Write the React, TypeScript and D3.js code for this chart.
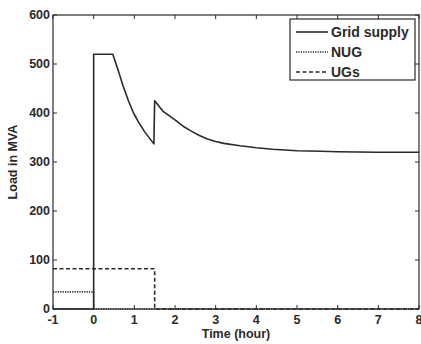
import { useEffect, useRef } from "react";
import * as d3 from "d3";

// time (hour) / load (MVA)
const gridTime = [-1, 0, 0, 0.47, 0.6, 0.72, 0.85, 0.98, 1.1, 1.25, 1.48, 1.5, 1.7, 2, 2.2, 2.4, 2.6, 2.8, 3.0, 3.2, 3.6, 4, 4.4, 5, 5.6, 6, 7, 8];
const gridLoad = [0, 0, 520, 520, 488, 456, 426, 400, 382, 362, 337, 425, 404, 386, 373, 363, 354, 347, 342, 338, 333, 329, 326, 323, 322, 321, 320, 320];
const nugTime = [-1, 0, 0, 8];
const nugLoad = [35, 35, 0, 0];
const ugTime = [-1, 1.5, 1.5, 8];
const ugLoad = [82, 82, 0, 0];

const xTicks = [-1, 0, 1, 2, 3, 4, 5, 6, 7, 8];
const yTicks = [0, 100, 200, 300, 400, 500, 600];
const seriesNames = ["Grid supply", "NUG", "UGs"];

export default function App() {
  const ref = useRef<SVGSVGElement>(null);

  useEffect(() => {
    const width = 421;
    const height = 344;
    const marginLeft = 53;
    const marginRight = 2;
    const marginTop = 15;
    const marginBottom = 35;
    const ink = "#2a2a2a";
    const font = "Liberation Sans, Arial, sans-serif";

    const svg = d3.select(ref.current);
    svg.selectAll("*").remove();

    const x = d3.scaleLinear([-1, 8], [marginLeft, width - marginRight]);
    const y = d3.scaleLinear([0, 600], [height - marginBottom, marginTop]);

    svg.append("rect").attr("width", width).attr("height", height).attr("fill", "#fff");

    const series = [
      { t: gridTime, v: gridLoad, dash: null },
      { t: nugTime, v: nugLoad, dash: "1.2,1.2" },
      { t: ugTime, v: ugLoad, dash: "4,2.5" },
    ];

    const line = d3.line<[number, number]>().x(d => x(d[0])).y(d => y(d[1]));

    // draw the dashed ones first so the solid one sits on top
    [2, 1, 0].forEach(i => {
      const s = series[i];
      const pts = s.t.map((t, j) => [t, s.v[j]] as [number, number]);
      svg.append("path")
        .attr("d", line(pts))
        .attr("fill", "none")
        .attr("stroke", ink)
        .attr("stroke-width", 1.6)
        .attr("stroke-linejoin", "round")
        .attr("stroke-dasharray", s.dash);
    });

    // box + inward ticks on all sides
    const tick = 4;
    const gx = svg.append("g");
    xTicks.forEach(t => {
      gx.append("line").attr("x1", x(t)).attr("x2", x(t)).attr("y1", y(0)).attr("y2", y(0) - tick).attr("stroke", ink);
      gx.append("line").attr("x1", x(t)).attr("x2", x(t)).attr("y1", y(600)).attr("y2", y(600) + tick).attr("stroke", ink);
      gx.append("text")
        .attr("x", x(t)).attr("y", y(0) + 15)
        .attr("text-anchor", "middle")
        .attr("font-family", font).attr("font-weight", "bold").attr("font-size", 12.5)
        .attr("fill", ink)
        .text(t);
    });
    yTicks.forEach(v => {
      gx.append("line").attr("x1", x(-1)).attr("x2", x(-1) + tick).attr("y1", y(v)).attr("y2", y(v)).attr("stroke", ink);
      gx.append("line").attr("x1", x(8)).attr("x2", x(8) - tick).attr("y1", y(v)).attr("y2", y(v)).attr("stroke", ink);
      gx.append("text")
        .attr("x", x(-1) - 3).attr("y", y(v) + 4)
        .attr("text-anchor", "end")
        .attr("font-family", font).attr("font-weight", "bold").attr("font-size", 12.5)
        .attr("fill", ink)
        .text(v);
    });
    svg.append("rect")
      .attr("x", x(-1)).attr("y", y(600))
      .attr("width", x(8) - x(-1)).attr("height", y(0) - y(600))
      .attr("fill", "none").attr("stroke", ink).attr("stroke-width", 1.2);

    svg.append("text")
      .attr("x", (x(-1) + x(8)) / 2).attr("y", height - 6)
      .attr("text-anchor", "middle")
      .attr("font-family", font).attr("font-weight", "bold").attr("font-size", 12.5)
      .attr("fill", ink)
      .text("Time (hour)");

    svg.append("text")
      .attr("transform", `translate(17,${(y(0) + y(600)) / 2}) rotate(-90)`)
      .attr("text-anchor", "middle")
      .attr("font-family", font).attr("font-weight", "bold").attr("font-size", 12.5)
      .attr("fill", ink)
      .text("Load in MVA");

    // legend
    const legend = svg.append("g").attr("transform", "translate(290,19)");
    legend.append("rect")
      .attr("width", 125).attr("height", 61)
      .attr("fill", "#fff").attr("stroke", ink).attr("stroke-width", 1.2);
    seriesNames.forEach((name, i) => {
      const row = legend.append("g").attr("transform", `translate(0,${13 + i * 20})`);
      row.append("line")
        .attr("x1", 6).attr("x2", 38)
        .attr("stroke", ink).attr("stroke-width", 1.6)
        .attr("stroke-dasharray", series[i].dash);
      row.append("text")
        .attr("x", 41).attr("y", 5)
        .attr("font-family", font).attr("font-weight", "bold").attr("font-size", 14)
        .attr("fill", ink)
        .text(name);
    });
  }, []);

  return (
    <svg ref={ref} width={421} height={344}
      style={{ position: "absolute", left: 0, top: 0, display: "block" }} />
  );
}
